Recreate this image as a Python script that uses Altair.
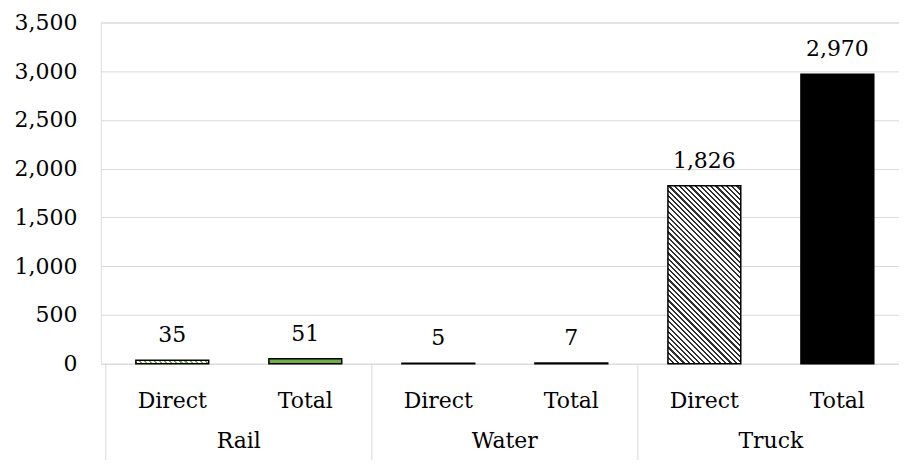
import math
import altair as alt
import pandas as pd

# ---- data ----
groups = ["Rail", "Water", "Truck"]
measures = ["Direct", "Total"]
values = [35, 51, 5, 7, 1826, 2970]
y_ticks = [0, 500, 1000, 1500, 2000, 2500, 3000, 3500]

# ---- layout / style ----
W_PLOT = 800
H_PLOT = 342
STEP = 135          # pixels per category slot
BAR_W = 73
Y_MAX = 3500
FONT = "DejaVu Serif"
FS = 22
GRID = "#D9D9D9"

rows = []
for gi, g in enumerate(groups):
    for mi, m in enumerate(measures):
        k = gi * 2 + mi
        rows.append(dict(group=g, measure=m, slot=k, pos=k + 0.5, value=values[k]))
df = pd.DataFrame(rows)
gdf = pd.DataFrame({
    "group": groups,
    "center": [2 * i + 1 for i in range(len(groups))],
    "edge": [2 * i for i in range(len(groups))],
})

xscale = alt.Scale(domain=[0, W_PLOT / STEP], nice=False, zero=False)
yscale = alt.Scale(domain=[0, Y_MAX], nice=False)

X = alt.X("pos:Q", scale=xscale, axis=None)
Y = alt.Y("value:Q", scale=yscale,
          axis=alt.Axis(values=y_ticks, format=",.0f", title=None, ticks=False, domain=False,
                        grid=True, gridColor=GRID, gridWidth=1,
                        labelFont=FONT, labelFontSize=FS, labelColor="black",
                        labelPadding=24, labelBaseline="middle"))


def hatch(value, color, period=3.7, duty=0.42):
    """Diagonal 45-degree stripes built as a hard-stop linear gradient."""
    w = BAR_W
    h = max(value * H_PLOT / Y_MAX, 0.5)
    t = (w + h) / (w * w + h * h)
    x2 = t * w
    y2 = 1 - t * h
    span = (w + h) / math.sqrt(2)
    n = max(1, round(span / period))
    stops = []
    for k in range(n):
        a = k / n
        b = (k + duty) / n
        c = (k + 1) / n
        stops += [
            {"offset": a, "color": color},
            {"offset": b, "color": color},
            {"offset": b, "color": "white"},
            {"offset": c, "color": "white"},
        ]
    return {"gradient": "linear", "x1": 0, "y1": 1, "x2": x2, "y2": y2, "stops": stops}


base = alt.Chart(df)

hatch_colors = {"Rail": "#70AD47", "Water": "#303030", "Truck": "#303030"}
layers = []
for g in groups:
    v = df[(df.group == g) & (df.measure == "Direct")].value.iloc[0]
    layers.append(
        base.transform_filter((alt.datum.group == g) & (alt.datum.measure == "Direct"))
        .mark_bar(width=BAR_W, fill=hatch(v, hatch_colors[g]), stroke="black", strokeWidth=1.5)
        .encode(x=X, y=Y)
    )

solid = (
    base.transform_filter(alt.datum.measure == "Total")
    .mark_bar(width=BAR_W, stroke="black", strokeWidth=1.5)
    .encode(x=X, y=Y,
            fill=alt.Fill("group:N", scale=alt.Scale(domain=groups, range=["#70AD47", "black", "black"]),
                          legend=None))
)

value_labels = base.mark_text(dy=-18, baseline="alphabetic", font=FONT, fontSize=FS, color="black").encode(
    x=X, y=Y, text=alt.Text("value:Q", format=",")
)

cat_labels = base.mark_text(baseline="alphabetic", font=FONT, fontSize=FS, color="black").encode(
    x=X, y=alt.value(H_PLOT + 44), text="measure:N"
)

gbase = alt.Chart(gdf)
group_labels = gbase.mark_text(baseline="alphabetic", font=FONT, fontSize=FS, color="black").encode(
    x=alt.X("center:Q", scale=xscale, axis=None), y=alt.value(H_PLOT + 84), text="group:N"
)
separators = gbase.mark_rule(color=GRID, strokeWidth=1).encode(
    x=alt.X("edge:Q", scale=xscale, axis=None), y=alt.value(H_PLOT), y2=alt.value(H_PLOT + 140)
)

chart = (
    alt.layer(solid, *layers, value_labels, cat_labels, group_labels, separators)
    .properties(width=W_PLOT, height=H_PLOT,
                autosize=alt.AutoSizeParams(type="none"),
                padding={"left": 93, "top": 14, "right": 0, "bottom": 96})
    .configure_view(strokeWidth=0)
    .configure(background="white")
)

chart.save("out.html", embed_options={"renderer": "svg", "actions": False})
